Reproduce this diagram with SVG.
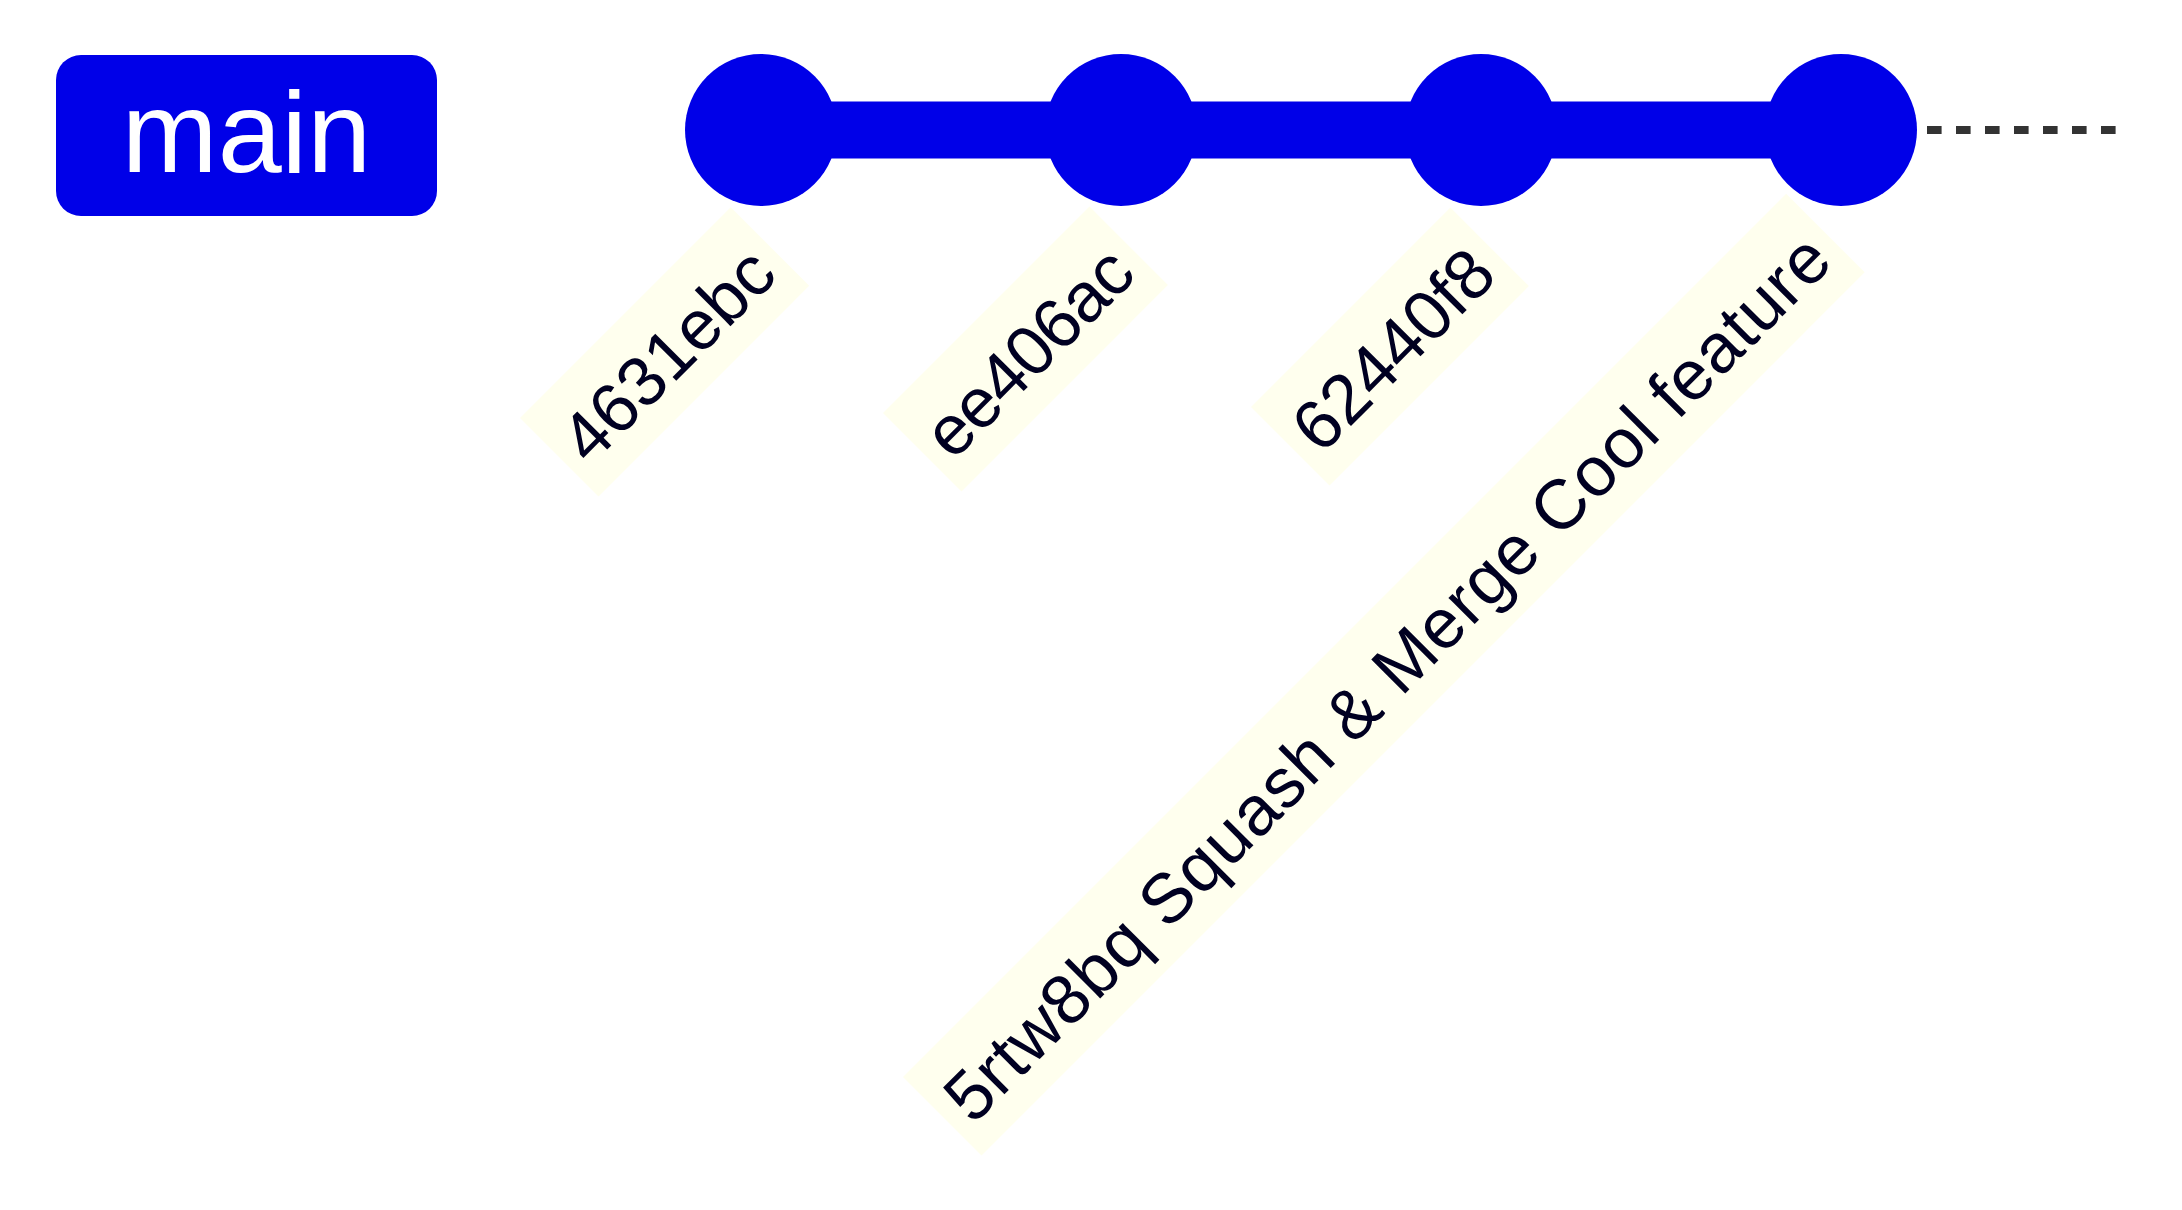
<svg xmlns="http://www.w3.org/2000/svg" width="2182" height="1210" viewBox="0 0 2182 1210">
<style>
.commit{fill:#0000e8}
.arrow{stroke:#0000e8;stroke-width:57;fill:none}
.branchline{stroke:#333333;stroke-width:8;stroke-dasharray:14.6 14.4;fill:none}
.lbl-bkg{fill:#ffffee}
.lbl{font-family:"Liberation Sans",Arial,sans-serif;font-size:70px;fill:#000021}
.branch-bkg{fill:#0000e8}
.branch-text{font-family:"Liberation Sans",Arial,sans-serif;font-size:115px;fill:#ffffff;text-anchor:middle}
</style>
<rect width="2182" height="1210" fill="#ffffff"/>
<g id="branch-main">
<rect class="branch-bkg" x="56" y="55" width="381" height="161" rx="25" ry="25"/>
<text class="branch-text" x="246.5" y="172">main</text>
</g>
<g id="connectors">
<line class="branchline" x1="1927" y1="130" x2="2116" y2="130"/>
<line class="arrow" x1="761" y1="130" x2="1121" y2="130"/>
<line class="arrow" x1="1121" y1="130" x2="1481" y2="130"/>
<line class="arrow" x1="1481" y1="130" x2="1841" y2="130"/>
</g>
<g id="commit-4631ebc">
<circle class="commit" cx="761" cy="130" r="76"/>
<g transform="rotate(-45 520 418)">
<rect class="lbl-bkg" x="520" y="418" width="298" height="111"/>
<text class="lbl" x="535" y="502" textLength="268">4631ebc</text>
</g>
</g>
<g id="commit-ee406ac">
<circle class="commit" cx="1121" cy="130" r="76"/>
<g transform="rotate(-45 883 413)">
<rect class="lbl-bkg" x="883" y="413" width="292" height="111"/>
<text class="lbl" x="898" y="497" textLength="262">ee406ac</text>
</g>
</g>
<g id="commit-62440f8">
<circle class="commit" cx="1481" cy="130" r="76"/>
<g transform="rotate(-45 1251 407)">
<rect class="lbl-bkg" x="1251" y="407" width="282" height="111"/>
<text class="lbl" x="1266" y="491" textLength="252">62440f8</text>
</g>
</g>
<g id="commit-5rtw8bq">
<circle class="commit" cx="1841" cy="130" r="76"/>
<g transform="rotate(-45 903 1077)">
<rect class="lbl-bkg" x="903" y="1077" width="1249" height="111"/>
<text class="lbl" x="918" y="1161" textLength="1219">5rtw8bq Squash &amp; Merge Cool feature</text>
</g>
</g>
</svg>
